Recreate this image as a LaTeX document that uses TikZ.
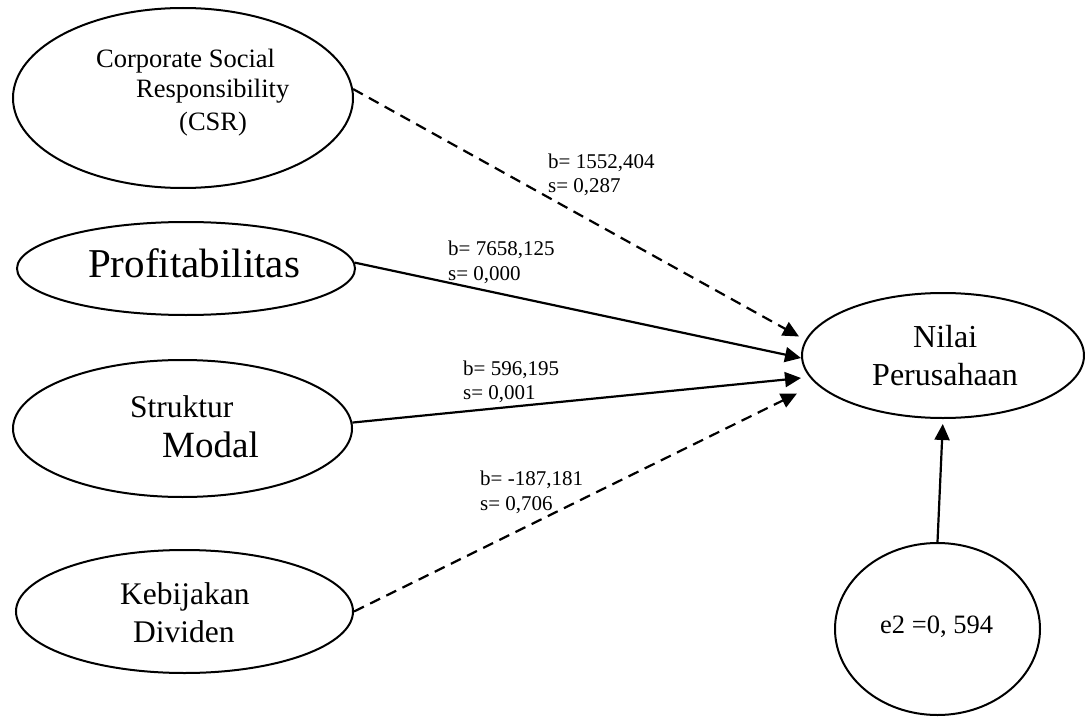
\documentclass[tikz,border=0pt]{standalone}
\usepackage{fontspec}
\setmainfont{Liberation Serif}
\usetikzlibrary{calc}
\usetikzlibrary{shapes.geometric,positioning}
\usetikzlibrary{arrows.meta}
\tikzset{
    varnode/.style={
        ellipse,
        draw,
        line width=2pt,
        inner sep=0pt
    },
    txt/.style={inner sep=0pt, anchor=base west},
    % koefisien jalur
    coefftxt/.style={txt, font=\fontsize{21}{24}\selectfont},
    solidarrow/.style={
        line width=2.2pt,
        black,
        -{Triangle[length=16pt, width=15pt]}
    },
    dashedarrow/.style={
        solidarrow,
        dash pattern=on 11pt off 7pt
    }
}

\begin{document}
\begin{tikzpicture}[x=1pt,y=-1pt]
    \useasboundingbox (0,0) rectangle (1085,717);

    \node[varnode, minimum width=340pt, minimum height=180pt] (csr) at (183,98) {};
    \node[varnode, minimum width=338pt, minimum height=93pt] (profit) at (186,268.5) {};
    \node[varnode, minimum width=339pt, minimum height=137pt] (struktur) at (182.5,428.5) {};
    \node[varnode, minimum width=337pt, minimum height=123pt] (dividen) at (184.5,611.5) {};
    \node[varnode, minimum width=282pt, minimum height=125pt] (nilai) at (943,355.5) {};
    \node[varnode, minimum width=205pt, minimum height=172pt] (e2) at (937.5,629) {};

    \node[txt, font=\fontsize{26.5}{30}\selectfont] (csr1) at (96,67) {Corporate Social};
    \node[txt, font=\fontsize{26.5}{30}\selectfont] (csr2) at (136,98) {Responsibility};
    \node[txt, font=\fontsize{26.5}{30}\selectfont] (csr3) at (179,130) {(CSR)};
    \node[txt, font=\fontsize{41}{46}\selectfont] (profit1) at (88,277) {Profitabilitas};
    \node[txt, font=\fontsize{31.5}{36}\selectfont] (struktur1) at (130,417) {Struktur};
    \node[txt, font=\fontsize{37}{42}\selectfont] (struktur2) at (162,457) {Modal};
    \node[txt, font=\fontsize{31.5}{36}\selectfont] (dividen1) at (120,604) {Kebijakan};
    \node[txt, font=\fontsize{31.5}{36}\selectfont] (dividen2) at (133,642) {Dividen};
    \node[txt, font=\fontsize{32}{36}\selectfont] (nilai1) at (913,347) {Nilai};
    \node[txt, font=\fontsize{32}{36}\selectfont] (nilai2) at (872,385) {Perusahaan};
    \node[txt, font=\fontsize{26.5}{30}\selectfont] (e2txt) at (880,633) {e2 =0, 594};

    \coordinate (t1) at ($(nilai.west)+(-2,-19)$);
    \coordinate (t2) at ($(nilai.west)+(0,2.5)$);
    \coordinate (t3) at ($(nilai.west)+(0,22.5)$);
    \coordinate (t4) at ($(nilai.west)+(-4,38)$);

    \draw[dashedarrow] (csr.3) -- (t1);
    \draw[solidarrow] (profit.2) -- (t2);
    \draw[solidarrow] (struktur.2) -- (t3);
    \draw[dashedarrow] (dividen.east) -- (t4);
    \draw[solidarrow, shorten >=5pt] (e2.north) -- (nilai.south);

    \node[coefftxt] (b1) at (548,168) {b= 1552,404};
    \node[coefftxt] (s1) at (548,192) {s= 0,287};
    \node[coefftxt] (b2) at (448,255) {b= 7658,125};
    \node[coefftxt] (s2) at (448,280) {s= 0,000};
    \node[coefftxt] (b3) at (463,375) {b= 596,195};
    \node[coefftxt] (s3) at (463,399) {s= 0,001};
    \node[coefftxt] (b4) at (480,485) {b= -187,181};
    \node[coefftxt] (s4) at (480,510) {s= 0,706};
\end{tikzpicture}
\end{document}
